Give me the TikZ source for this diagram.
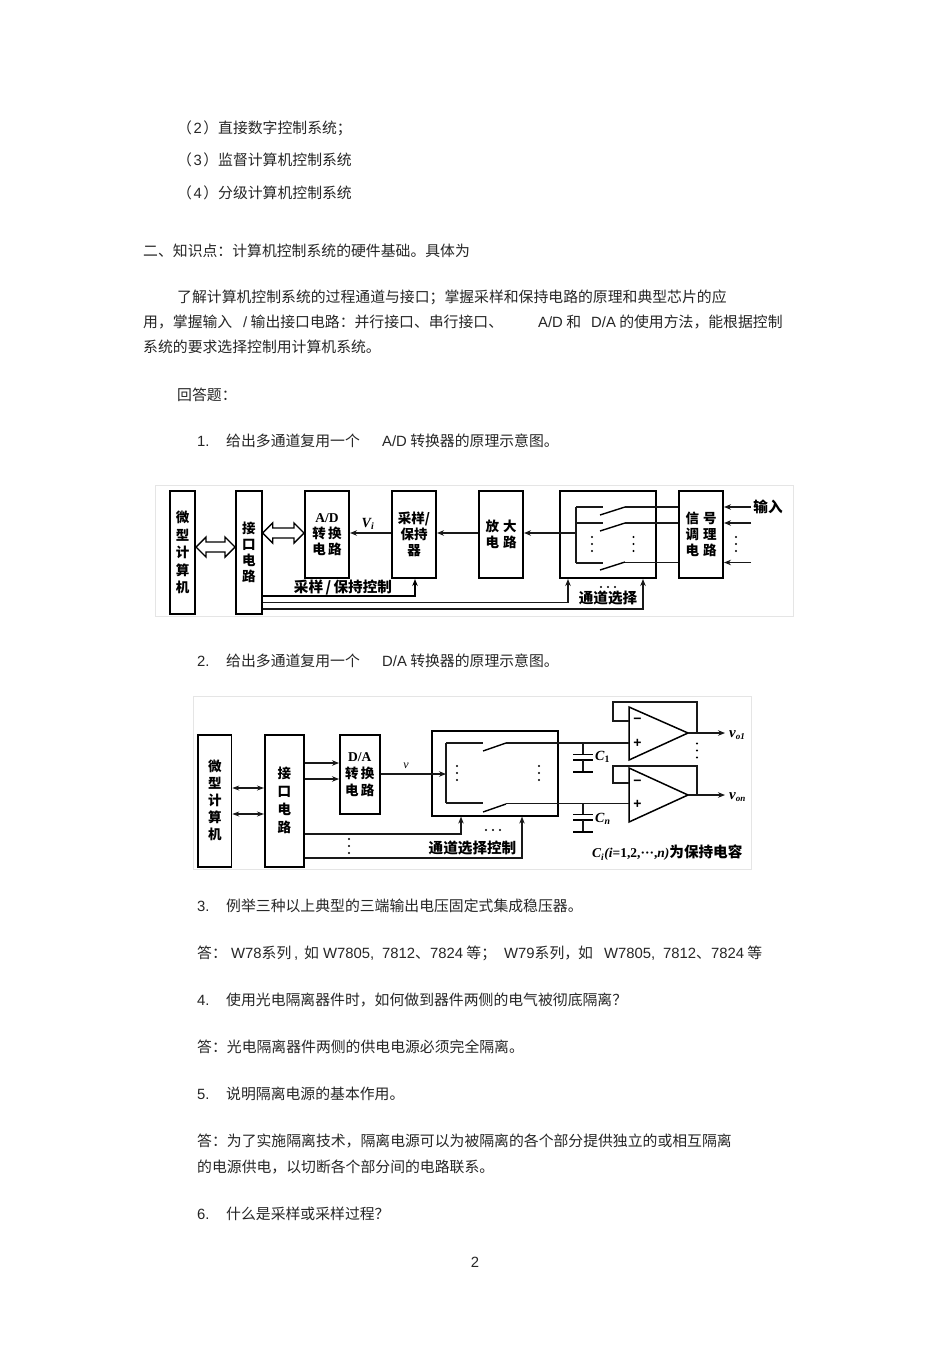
\documentclass[tikz,border=0pt]{standalone}
\usepackage{fontspec}
\setmainfont{Noto Sans CJK SC}
\newfontfamily\lat{Liberation Sans}
\newfontfamily\slat{Liberation Serif}
\usetikzlibrary{arrows.meta,calc}
\newcommand{\hollowdbl}[2]{%
  \draw[line width=1.4pt,fill=white,line join=miter] (#1) -- ++(10,-10) -- ++(0,5) -- ($(#2)+(-10,-5)$) -- ++(0,-5) -- (#2) -- ++(-10,10) -- ++(0,-5) -- ($(#1)+(10,5)$) -- ++(0,5) -- cycle;}
\newcommand{\vdotsat}[2]{\foreach \k in {0,1,2}{\fill (#1,#2+\k*7) circle (1.2);}}
\newcommand{\hdotsat}[2]{\foreach \k in {-1,0,1}{\fill (#1+\k*7,#2) circle (1.1);}}
\begin{document}
\begin{tikzpicture}[x=1pt,y=-1pt,
  txt/.style={anchor=base west,inner sep=0pt,yshift=-1pt,font=\fontsize{14.85}{18}\selectfont,text=black!85},
  frame/.style={draw=black!10,line width=0.8pt,fill=white},
  box/.style={draw,line width=2pt,anchor=north west,inner sep=0pt,align=center,font=\bfseries\fontsize{13.5}{16}\selectfont},
  boxb/.style={draw,line width=1.6pt,anchor=north west,inner sep=0pt,align=center,font=\bfseries\fontsize{13.5}{17}\selectfont},
  wire/.style={line width=1.15pt,black!90},
  sw/.style={line width=1.4pt},
  tip/.style={-{Stealth[length=7pt,width=5.5pt]}},
  dtip/.style={{Stealth[length=7pt,width=5pt]}-{Stealth[length=7pt,width=5pt]}},
  lab/.style={inner sep=0pt,font=\bfseries\fontsize{14.6}{16}\selectfont},
  amp/.style={line width=1.5pt,line join=miter}]
\useasboundingbox (0,0) rectangle (950,1345);
\fill[white] (0,0) rectangle (950,1345);
% ---- body text
\node[txt] (t1) at (177,132) {（\kern1.5pt{\lat 2}\kern1.5pt）直接数字控制系统；};
\node[txt] (t2) at (177,164) {（\kern1.5pt{\lat 3}\kern1.5pt）监督计算机控制系统};
\node[txt] (t3) at (177,197) {（\kern1.5pt{\lat 4}\kern1.5pt）分级计算机控制系统};
\node[txt] (t4) at (143,255) {二、知识点：计算机控制系统的硬件基础。具体为};
\node[txt] (t5) at (177,301) {了解计算机控制系统的过程通道与接口；掌握采样和保持电路的原理和典型芯片的应};
\node[txt] (t6a) at (143,326) {用，掌握输入};
\node[txt] (t6b) at (243,326) {{\lat /} 输出接口电路：并行接口、串行接口、};
\node[txt] (t6c) at (538,326) {{\lat A/D} 和};
\node[txt] (t6d) at (591,326) {{\lat D/A} 的使用方法，能根据控制};
\node[txt] (t7) at (143,351) {系统的要求选择控制用计算机系统。};
\node[txt] (t8) at (177,399) {回答题：};
\node[txt] (q1n) at (197,445) {\lat 1.};
\node[txt] (q1a) at (226,445) {给出多通道复用一个};
\node[txt] (q1b) at (382,445) {{\lat A/D} 转换器的原理示意图。};
\node[txt] (q2n) at (197,665) {\lat 2.};
\node[txt] (q2a) at (226,665) {给出多通道复用一个};
\node[txt] (q2b) at (382,665) {{\lat D/A} 转换器的原理示意图。};
\node[txt] (q3n) at (197,910) {\lat 3.};
\node[txt] (q3a) at (226,910) {例举三种以上典型的三端输出电压固定式集成稳压器。};
\node[txt] (a3a) at (197,957) {答：};
\node[txt] (a3b) at (231,957) {{\lat W78}系列};
\node[txt] (a3c) at (294,957) {\lat ,};
\node[txt] (a3d) at (304,957) {如};
\node[txt] (a3e) at (323,957) {\lat W7805,};
\node[txt] (a3f) at (382,957) {{\lat 7812}、{\lat 7824} 等；};
\node[txt] (a3g) at (504,957) {{\lat W79}系列，};
\node[txt] (a3h) at (578,957) {如};
\node[txt] (a3i) at (604,957) {\lat W7805,};
\node[txt] (a3j) at (663,957) {{\lat 7812}、{\lat 7824} 等};
\node[txt] (q4n) at (197,1004) {\lat 4.};
\node[txt] (q4a) at (226,1004) {使用光电隔离器件时，如何做到器件两侧的电气被彻底隔离？};
\node[txt] (a4) at (197,1051) {答：光电隔离器件两侧的供电电源必须完全隔离。};
\node[txt] (q5n) at (197,1098) {\lat 5.};
\node[txt] (q5a) at (226,1098) {说明隔离电源的基本作用。};
\node[txt] (a5a) at (197,1145) {答：为了实施隔离技术，隔离电源可以为被隔离的各个部分提供独立的或相互隔离};
\node[txt] (a5b) at (197,1171) {的电源供电，以切断各个部分间的电路联系。};
\node[txt] (q6n) at (197,1218) {\lat 6.};
\node[txt] (q6a) at (226,1218) {什么是采样或采样过程？};
\node[txt,anchor=base] (pg) at (475,1266) {\lat 2};
% ---- figure 1
\draw[frame] (155,485) rectangle (793,616);
\node[box,minimum width=24.7pt,minimum height=123pt] (mcu) at (169.3,490) {微\\[1.5pt]型\\[1.5pt]计\\[1.5pt]算\\[1.5pt]机};
\node[box,minimum width=25.7pt,minimum height=123pt] (ifc) at (235,490) {接\\口\\电\\路};
\node[box,minimum width=44pt,minimum height=87pt] (ad) at (304,490) {{\slat\bfseries A/D}\\转\,换\\电\,路};
\node[box,minimum width=44pt,minimum height=87pt] (sh) at (391,490) {采样/\\保持\\器};
\node[box,minimum width=44pt,minimum height=87pt] (amp1) at (478,490) {放\hspace{4pt}大\\电\hspace{4pt}路};
\node[box,minimum width=96pt,minimum height=87pt] (mux) at (559,490) {};
\node[box,minimum width=44pt,minimum height=87pt] (cond) at (678,490) {信\hspace{4pt}号\\调\hspace{4pt}理\\电\hspace{4pt}路};
\coordinate (h1a) at (mcu.east |- 0,547);
\coordinate (h1b) at (ifc.west |- 0,547);
\coordinate (h2a) at (ifc.east |- 0,533);
\coordinate (h2b) at (ad.west |- 0,533);
\hollowdbl{h1a}{h1b}
\hollowdbl{h2a}{h2b}
\draw[wire,tip] (sh.west |- 0,533) -- (ad.east |- 0,533);
\draw[wire,tip] (amp1.west |- 0,533) -- (sh.east |- 0,533);
\coordinate (busm) at (576,533);
\draw[wire,tip] (busm) -- (amp1.east |- busm);
\coordinate (s1) at (576,507); \coordinate (s2) at (576,523); \coordinate (s3) at (576,563);
\draw[wire] (s1) -- (s3);
\draw[wire] (s1) -- (603,507);
\draw[wire] (s2) -- (603,523);
\draw[wire] (s3) -- (603,563);
\draw[sw] (600,515) -- (625,507);
\draw[sw] (600,531) -- (625,523);
\draw[sw] (600,570) -- (625,562);
\draw[wire] (625,507) -- (cond.west |- 0,507);
\draw[wire] (625,523) -- (cond.west |- 0,523);
\draw[wire] (625,562.5) -- (cond.west |- 0,562.5);
\coordinate (in1) at (751,507); \coordinate (in2) at (751,523); \coordinate (in3) at (751,562.5);
\draw[wire,tip] (in1) -- (cond.east |- in1);
\draw[wire,tip] (in2) -- (cond.east |- in2);
\draw[wire,tip] (in3) -- (cond.east |- in3);
\node[lab] (inlab) at (768,507) {输入};
\vdotsat{592}{537}\vdotsat{633.5}{537}\vdotsat{736}{537}
\node[font=\slat\itshape\bfseries\fontsize{14}{15}\selectfont,inner sep=0pt] (vi) at (368,524) {V\textsubscript{i}};
\draw[line width=1.4pt,tip] (ifc.east |- 0,596) -| (sh.south -| 415,0);
\draw[wire,tip] (ifc.east |- 0,602.5) -| (mux.south -| 568,0);
\draw[wire,tip] (ifc.east |- 0,609) -| (mux.south -| 643,0);
\node[lab] (shc) at (343,588) {采样\,/\,保持控制};
\node[lab] (chs) at (608,598) {通道选择};
\hdotsat{608}{587}
% ---- figure 2
\draw[frame] (193,696) rectangle (751.5,869);
\node[boxb,minimum width=33.4pt,minimum height=132pt] (mcu2) at (197.3,734) {微\\型\\计\\算\\机};
\node[boxb,minimum width=39pt,minimum height=132pt] (ifc2) at (264,734) {接\\[1pt]口\\[1pt]电\\[1pt]路};
\node[boxb,minimum width=40pt,minimum height=79pt] (da) at (339,734) {{\slat\bfseries D/A}\\转\,换\\电\,路};
\node[boxb,minimum width=126pt,minimum height=85pt] (mux2) at (431,730) {};
\draw[wire,dtip] (mcu2.east |- 0,788) -- (ifc2.west |- 0,788);
\draw[wire,dtip] (mcu2.east |- 0,814) -- (ifc2.west |- 0,814);
\draw[wire,tip] (ifc2.east |- 0,763) -- (da.west |- 0,763);
\draw[wire,tip] (ifc2.east |- 0,779) -- (da.west |- 0,779);
\coordinate (b1) at (446,743); \coordinate (b2) at (446,803); \coordinate (bm) at (446,774);
\draw[wire,tip] (da.east |- bm) -- (bm);
\draw[wire] (b1) -- (b2);
\draw[wire] (b1) -- (483,743);
\draw[wire] (b2) -- (483,803);
\draw[sw] (483,751) -- (506,743);
\draw[sw] (483,812) -- (506,804);
\node[font=\slat\itshape\fontsize{12}{14}\selectfont,inner sep=0pt] (vlab) at (406,766) {v};
\vdotsat{457}{766}\vdotsat{539}{766}
\draw[wire,tip] (ifc2.east |- 0,834) -| (mux2.south -| 461,0);
\draw[wire,tip] (ifc2.east |- 0,858) -| (mux2.south -| 522,0);
\vdotsat{349}{839}
\hdotsat{493}{830}
\node[lab] (chc) at (472.5,848) {通道选择控制};
% op amps
\coordinate (a1t) at (629,707); \coordinate (a1b) at (629,760); \coordinate (a1o) at (688,733);
\coordinate (a2t) at (629,768); \coordinate (a2b) at (629,822); \coordinate (a2o) at (688,795);
\draw[amp] (a1t) -- (a1b) -- (a1o) -- cycle;
\draw[amp] (a2t) -- (a2b) -- (a2o) -- cycle;
\draw[wire] (506,743) -- (a1t |- 0,743);
\draw[wire] (506,803.5) -- (a2t |- 0,803.5);
\draw[wire] (a1t |- 0,721) -- (613,721) -- (613,702) -- (697,702) -- (697,733);
\draw[wire] (a2t |- 0,783) -- (613,783) -- (613,766) -- (697,766) -- (697,795);
\coordinate (o1) at (725,733); \coordinate (o2) at (725,795);
\draw[wire,tip] (a1o) -- (o1);
\draw[wire,tip] (a2o) -- (o2);
\node[font=\bfseries\fontsize{14}{14}\selectfont,inner sep=0pt] (pl1) at (637.5,743) {\lat +};
\node[font=\bfseries\fontsize{14}{14}\selectfont,inner sep=0pt] (mi1) at (637.5,721) {\lat −};
\node[font=\bfseries\fontsize{14}{14}\selectfont,inner sep=0pt] (pl2) at (637.5,804) {\lat +};
\node[font=\bfseries\fontsize{14}{14}\selectfont,inner sep=0pt] (mi2) at (637.5,783) {\lat −};
\vdotsat{697}{743.5}
\node[anchor=west,inner sep=0pt,font=\slat\itshape\bfseries\fontsize{15}{15}\selectfont] (vo1) at (729,735) {v\textsubscript{\fontsize{9}{10}\selectfont o1}};
\node[anchor=west,inner sep=0pt,font=\slat\itshape\bfseries\fontsize{15}{15}\selectfont] (von) at (729,797) {v\textsubscript{\fontsize{9}{10}\selectfont on}};
% capacitors
\draw[wire] (583,743) -- (583,754);
\draw[line width=1.5pt] (573,754.5) -- (593,754.5);
\draw[line width=1.5pt] (573,760) -- (593,760);
\draw[wire] (583,760) -- (583,772);
\draw[line width=1.5pt] (573,772) -- (593,772);
\draw[wire] (583,804) -- (583,814);
\draw[line width=1.5pt] (573,814.5) -- (593,814.5);
\draw[line width=1.5pt] (573,820) -- (593,820);
\draw[wire] (583,820) -- (583,832);
\draw[line width=1.5pt] (573,832) -- (593,832);
\node[anchor=west,inner sep=0pt,font=\slat\itshape\bfseries\fontsize{14}{15}\selectfont] (c1) at (595,757) {C\textsubscript{\upshape 1}};
\node[anchor=west,inner sep=0pt,font=\slat\itshape\bfseries\fontsize{14}{15}\selectfont] (cn) at (595,819) {C\textsubscript{n}};
\node[anchor=west,inner sep=0pt,font=\bfseries\fontsize{14.6}{16}\selectfont] (cap) at (592,853) {{\slat\itshape\bfseries\fontsize{13.5}{15}\selectfont C\textsubscript{i}(i{\upshape =1,2,···,}n)}为保持电容};
\end{tikzpicture}
\end{document}
